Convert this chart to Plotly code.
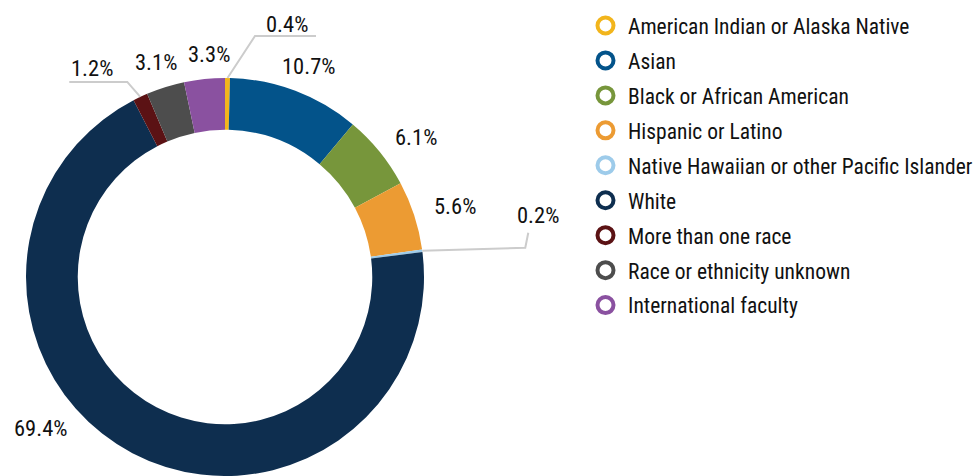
import math
import plotly.graph_objects as go

# данные
labels = [
    "American Indian or Alaska Native",
    "Asian",
    "Black or African American",
    "Hispanic or Latino",
    "Native Hawaiian or other Pacific Islander",
    "White",
    "More than one race",
    "Race or ethnicity unknown",
    "International faculty",
]
values = [0.4, 10.7, 6.1, 5.6, 0.2, 69.4, 1.2, 3.1, 3.3]
colors = ["#f2b51c", "#03538a", "#77963b", "#ec9b33", "#9dcbea",
          "#0e2e4f", "#5b1214", "#4d4d4d", "#8a51a0"]

W, H = 973, 476
FONT = "Roboto Condensed, Liberation Sans Narrow, DejaVu Sans Condensed, Roboto, sans-serif"
LINE = "#cccccc"

# геометрия кольца (в пикселях)
CX, CY, R = 225, 277, 199

# подписи: ("radial", dx, dy) или ("leader", elbow, end, text_offset, xanchor)
label_style = [
    ("leader", (27.5, -42), (61, 0), (-29, -12), "center"),
    ("radial", 2, 5),
    ("radial", 12, 6),
    ("radial", 10, 0),
    ("leader", (103, -3), (3, -15), (10, -18), "center"),
    ("radial", -77, -53),
    ("leader", (-13, -15), (-58, 0), (0, -14), "left"),
    ("radial", 0, 5),
    ("radial", 8, 7),
]

fig = go.Figure()

fig.add_trace(go.Pie(
    labels=labels, values=values, sort=False, direction="clockwise",
    rotation=0, hole=0.74, textinfo="none", hoverinfo="label+percent",
    marker=dict(colors=colors, line=dict(width=0)),
    showlegend=False,
    domain=dict(x=[(CX - R) / W, (CX + R) / W], y=[(H - CY - R) / H, (H - CY + R) / H]),
))

# легенда с кружками
for i, (lab, col) in enumerate(zip(labels, colors)):
    fig.add_trace(go.Scatter(
        x=[None], y=[None], mode="markers", name=lab, legendgroup=str(i),
        marker=dict(symbol="circle-open", size=16, color=col, line=dict(width=4, color=col)),
    ))

# подписи процентов
total = sum(values)
cum = 0
for v, st in zip(values, label_style):
    th = 2 * math.pi * (cum + v / 2) / total
    cum += v
    ex, ey = CX + R * math.sin(th), CY - R * math.cos(th)
    txt = f"{v:.1f}%"
    if st[0] == "radial":
        rr = R + 32
        tx, ty = CX + rr * math.sin(th) + st[1], CY - rr * math.cos(th) + st[2]
        xa = "center"
    else:
        bx, by = ex + st[1][0], ey + st[1][1]
        fx, fy = bx + st[2][0], by + st[2][1]
        fig.add_shape(type="path", xref="x", yref="y", layer="above",
                      path=f"M{ex},{ey} L{bx},{by} L{fx},{fy}",
                      line=dict(color=LINE, width=2))
        tx, ty = fx + st[3][0], fy + st[3][1]
        xa = st[4]
    fig.add_annotation(x=tx, y=ty, xref="x", yref="y", text=txt, showarrow=False,
                       xanchor=xa, yanchor="middle",
                       font=dict(family=FONT, size=22.5, color="#111111"))

fig.update_xaxes(range=[0, W], visible=False, fixedrange=True)
fig.update_yaxes(range=[H, 0], visible=False, fixedrange=True)

fig.update_layout(
    width=W, height=H,
    margin=dict(l=0, r=0, t=0, b=0, autoexpand=False),
    paper_bgcolor="white", plot_bgcolor="white",
    font=dict(family=FONT, size=21.5, color="#111111"),
    legend=dict(x=583 / W, y=1 - 5 / H, xanchor="left", yanchor="top",
                itemwidth=35, tracegroupgap=4,
                font=dict(family=FONT, size=21.5, color="#111111"),
                bgcolor="rgba(0,0,0,0)"),
)

# убрать отступ body, чтобы фигура начиналась с 0,0
fig.write_html("out.html", config={"displayModeBar": False},
               post_script="document.body.style.margin='0';")
